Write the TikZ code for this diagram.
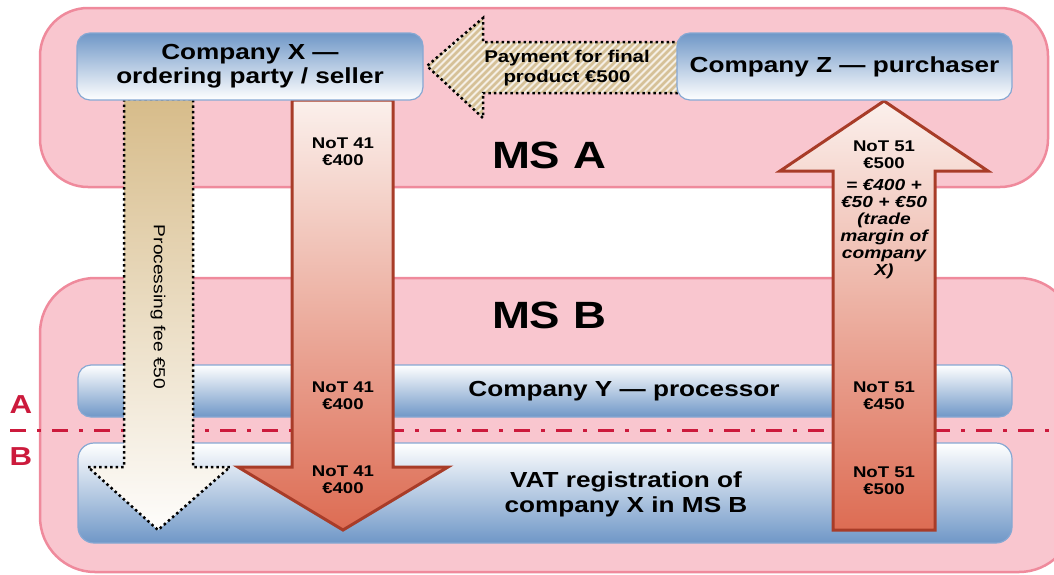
\documentclass[tikz,border=0pt]{standalone}
\usepackage{fontspec}
\setmainfont{Liberation Sans}[FakeStretch=1.2]
\definecolor{msfill}{HTML}{F9C6CF}
\definecolor{msline}{HTML}{EF8A9C}
\definecolor{cob}{HTML}{6F97C7}
\definecolor{coline}{HTML}{86A8D3}
\definecolor{notline}{HTML}{A83C28}
\definecolor{nottop}{HTML}{FBF0EC}
\definecolor{notbot}{HTML}{DD6C53}
\definecolor{feetop}{HTML}{D7BC8A}
\definecolor{hatch}{HTML}{D6C198}
\definecolor{border}{HTML}{CC1A3C}

\begin{document}
\begin{tikzpicture}[x=1pt, y=-1pt,
  ms/.style={draw=msline, line width=2.5pt, fill=msfill, rounded corners=48pt, inner sep=0pt},
  co/.style={draw=coline, line width=1.2pt, rounded corners=13pt, inner sep=0pt, top color=cob, bottom color=white},
  coup/.style={co, top color=white, bottom color=cob},
  big/.style={font=\fontsize{21.8}{24}\selectfont\bfseries, align=center},
  mslbl/.style={font=\fontsize{38}{40}\selectfont\bfseries},
  ab/.style={font=\fontsize{26}{28}\selectfont\bfseries, text=border},
  nt/.style={font=\fontsize{15.5}{17}\selectfont\bfseries, align=center},
  notarr/.style={draw=notline, line width=3pt, line join=miter, top color=nottop, bottom color=notbot},
  dots/.style={draw=black, line width=2.5pt, dash pattern=on 2.5pt off 3pt}]
  \useasboundingbox (0,0) rectangle (1054,574);
  \clip (0,0) rectangle (1054,574);
  % member states
  \node[ms, minimum width=1008, minimum height=179] (msa) at (544,97.5) {};
  \node[ms, minimum width=1034, minimum height=294, rounded corners=55pt] (msb) at (557,425) {};
  \node[mslbl] (msat) at (549,155) {MS A};
  \node[mslbl] (msbt) at (549,315) {MS B};
  % companies in MS B
  \node[coup, minimum width=934, minimum height=52] (coy) at (545,391) {};
  \node[coup, minimum width=934, minimum height=100, rounded corners=16pt] (vat) at (545,493) {};
  \node[big] (coyt) at (624,391) {Company Y --- processor};
  \node[big, font=\fontsize{21.8}{25}\selectfont\bfseries] (vatt) at (626,494) {VAT registration of\\company X in MS B};
  % border line
  \coordinate (bl) at (10,430); \coordinate (br) at (1054,430);
  \draw[border, line width=3pt, dash pattern=on 16pt off 11pt on 4pt off 11pt] (bl) -- (br);
  \node[ab] (la) at (21,405) {A};
  \node[ab] (lb) at (21,457) {B};
  % flows
  \path[dots, top color=feetop, bottom color=white!97!feetop]
    (124,99) -- (124,467) -- (88,467) -- (158,530) -- (230,467) -- (193,467) -- (193,99) -- cycle;
  \node[rotate=-90, font=\fontsize{16}{17}\selectfont] (fee) at (158,307) {Processing fee €50};
  \path[notarr] (292,100) -- (292,467) -- (238,467) -- (343,530) -- (448,467) -- (393,467) -- (393,100) -- cycle;
  \path[notarr] (833,530) -- (833,171) -- (780,171) -- (884,101) -- (988,171) -- (935,171) -- (935,530) -- cycle;
  \path[save path=\paypath] (680,42) -- (483,42) -- (483,18) -- (427,66) -- (483,118) -- (483,93) -- (680,93) -- cycle;
  \begin{scope}
    \clip[use path=\paypath];
    \fill[white!75!hatch] (420,10) rectangle (690,125);
    \foreach \i in {300,307,...,690}
      \draw[hatch, line width=2.6pt] (\i,125) -- ++(120,-120);
  \end{scope}
  \path[dots, use path=\paypath];
  \node[nt, font=\fontsize{17}{20}\selectfont\bfseries] (pay) at (567,68) {Payment for final\\product €500};
  \node[nt] (n41a) at (343,152) {NoT 41\\€400};
  \node[nt] (n41b) at (343,396) {NoT 41\\€400};
  \node[nt] (n41c) at (343,480) {NoT 41\\€400};
  \node[nt] (n51a) at (884,155) {NoT 51\\€500};
  \node[nt, font=\fontsize{16}{17}\selectfont\bfseries\itshape] (n51m) at (884,229) {= €400 +\\€50 + €50\\(trade\\margin of\\company\\X)};
  \node[nt] (n51b) at (884,396) {NoT 51\\€450};
  \node[nt] (n51c) at (884,481) {NoT 51\\€500};
  % companies in MS A
  \node[co, big, minimum width=346, minimum height=67] (cox) at (250,66.5) {Company X ---\\ordering party / seller};
  \node[co, big, minimum width=335, minimum height=67] (coz) at (844.5,66.5) {Company Z --- purchaser};
\end{tikzpicture}
\end{document}
